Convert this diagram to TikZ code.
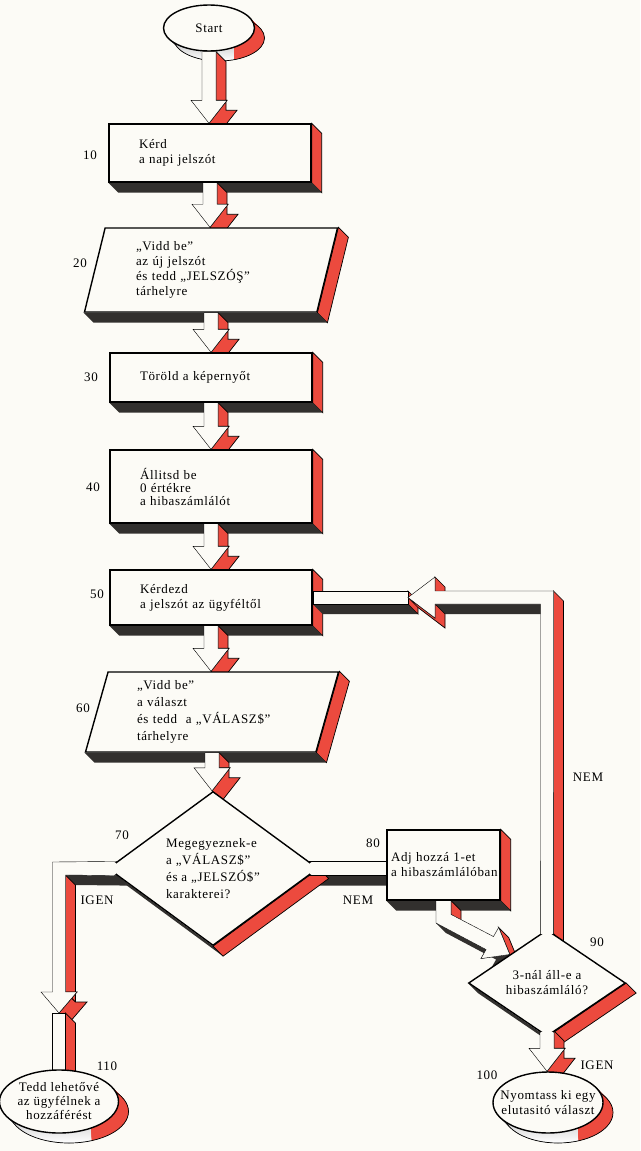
\documentclass[tikz,border=0pt]{standalone}
\usepackage{fontspec}
\setmainfont{Liberation Serif}[LetterSpace=5]
\usetikzlibrary{shapes.geometric,calc}
\hyphenpenalty=10000
\definecolor{paper}{RGB}{252,251,246}
\definecolor{side}{RGB}{236,74,62}
\definecolor{shade}{RGB}{50,48,46}
\pgfdeclarelayer{faces}
\pgfdeclarelayer{tubes}
\pgfdeclarelayer{patch}
\pgfsetlayers{faces,tubes,main,patch}
\newcommand\ext{10}
\newcommand\flowfont{\fontsize{13}{15}\selectfont}
\tikzset{
  proc/.style     = {rectangle, draw, fill=paper, align=left, font=\flowfont,
                     minimum width=202pt, text width=142pt, inner xsep=30pt},
  io/.style       = {trapezium, trapezium left angle=72, trapezium right angle=108,
                     trapezium stretches body, draw, fill=paper, align=left,
                     font=\flowfont, minimum width=253pt, text width=150pt, inner xsep=0pt},
  test/.style     = {diamond, draw, fill=paper, inner sep=0pt, font=\flowfont},
  term/.style     = {ellipse, draw, fill=paper, inner sep=0pt, align=center, font=\flowfont},
  num/.style      = {font=\flowfont, inner sep=0pt},
  tube/.style     = {fill=paper, draw},
  redface/.style  = {fill=side, draw, line width=0.7pt},
  darkface/.style = {fill=shade},
  cover/.style    = {fill=paper}
}
% side faces of the solid shapes
\newcommand\boxfaces[1]{%
  \path[redface] (#1.north east) -- ++(\ext,\ext) -- ([shift={(\ext,\ext)}]#1.south east) -- (#1.south east) -- cycle;
  \fill[darkface] (#1.south west) -- ++(\ext,\ext) -- ([shift={(\ext,\ext)}]#1.south east) -- (#1.south east) -- cycle;}
\newcommand\iofaces[1]{%
  \path[redface] (#1.top right corner) -- ++(\ext,\ext) -- ([shift={(\ext,\ext)}]#1.bottom right corner) -- (#1.bottom right corner) -- cycle;
  \fill[darkface] (#1.bottom left corner) -- ++(\ext,\ext) -- ([shift={(\ext,\ext)}]#1.bottom right corner) -- (#1.bottom right corner) -- cycle;}
\newcommand\testfaces[1]{%
  \fill[darkface] (#1.west) -- ++(\ext,\ext) -- ([shift={(\ext,\ext)}]#1.south) -- (#1.south) -- cycle;
  \path[redface] (#1.east) -- ++(\ext,\ext) -- ([shift={(\ext,\ext)}]#1.south) -- (#1.south) -- cycle;}
\newcommand\termfaces[3]{%
  \foreach \t in {1,...,\ext} {\fill[shade] ([shift={(\t,\t)}]#1.center) ellipse [x radius=#2, y radius=#3];}
  \begin{scope}
    \clip ([shift={(0.55*#2,-2*#3)}]#1.center) rectangle ++(3*#2,5*#3);
    \foreach \t in {1,...,\ext} {\fill[side] ([shift={(\t,\t)}]#1.center) ellipse [x radius=#2, y radius=#3];}
  \end{scope}
  \draw[line width=0.7pt] ([shift={(\ext,\ext)}]#1.center) ellipse [x radius=#2, y radius=#3];}
% hollow arrow straight down from one shape to the next
\newcommand\flowdown[3][0]{%
  \coordinate (tail) at ([shift={(0,-#1)}]#2.south);
  \coordinate (tip) at (tail |- #3.north);
  \path[redface] ([xshift=7pt]tail) -- ([shift={(7,-23)}]tip) -- ([shift={(18,-23)}]tip) -- (tip)
    -- ([shift={(\ext,\ext)}]tip) -- ([shift={(18+\ext,\ext-23)}]tip) -- ([shift={(7+\ext,\ext-23)}]tip)
    -- ([shift={(7+\ext,\ext)}]tail) -- cycle;
  \path[tube] ([xshift=-7pt]tail) -- ([shift={(-7,-23)}]tip) -- ([shift={(-18,-23)}]tip) -- (tip)
    -- ([shift={(18,-23)}]tip) -- ([shift={(7,-23)}]tip) -- ([xshift=7pt]tail) -- cycle;}

\begin{document}
\begin{tikzpicture}[x=1pt, y=-1pt, line width=1.4pt]
  \useasboundingbox (0,0) rectangle (640,1151);
  % shapes
  \node[term, minimum width=91pt, minimum height=46pt] (start) at (209,28) {Start};
  \node[proc, minimum height=58pt] (b10) at (210,153) {Kérd\\a napi jelszót};
  \node[io, minimum height=84pt] (p20) at (211,270) {„Vidd be”\\az új jelszót\\és tedd „JELSZÓŞ”\\tárhelyre};
  \node[proc, minimum height=49pt] (b30) at (211,377.5) {Töröld a képernyőt};
  \node[proc, minimum height=73pt, font=\fontsize{13}{13}\selectfont] (b40) at (211,486.5) {Állitsd be\\0 értékre\\a hibaszámlálót};
  \node[proc, minimum height=55pt] (b50) at (211,597.5) {Kérdezd\\a jelszót az ügyféltől};
  \node[io, minimum height=80pt, font=\fontsize{13}{17}\selectfont] (p60) at (212,712) {„Vidd be”\\a választ\\és tedd \ a „VÁLASZ\$”\\tárhelyre};
  \node[test, minimum width=210pt, minimum height=143pt, align=left, font=\fontsize{13}{17}\selectfont] (d70) at (213,868.5) {Megegyeznek-e\\a „VÁLASZ\$”\\és a „JELSZÓ\$”\\karakterei?};
  \node[proc, minimum width=113pt, minimum height=70pt, text width=105pt, inner xsep=4pt] (b80) at (443.5,865) {Adj hozzá 1-et\\a~hibaszámlálóban};
  \node[test, minimum width=157pt, minimum height=102pt, align=center] (d90) at (547,983) {3-nál áll-e a\\hibaszámláló?};
  \node[term, minimum width=110pt, minimum height=61pt, inner xsep=-12pt] (e100) at (548,1102.5) {Nyomtass ki egy\\elutasitó választ};
  \node[term, minimum width=119pt, minimum height=63pt, inner xsep=-6pt, font=\fontsize{13}{14}\selectfont] (e110) at (59,1101.5) {Tedd lehetővé\\az ügyfélnek a\\hozzáférést};
  % line numbers and answers
  \node[num] (l10) at (90,155) {10};
  \node[num] (l20) at (80,263) {20};
  \node[num] (l30) at (91,377) {30};
  \node[num] (l40) at (93,487) {40};
  \node[num] (l50) at (97,594) {50};
  \node[num] (l60) at (83,708) {60};
  \node[num] (l70) at (122,835) {70};
  \node[num] (l80) at (373,843) {80};
  \node[num] (l90) at (597,942) {90};
  \node[num] (l100) at (487,1075) {100};
  \node[num] (l110) at (107,1066) {110};
  \node[num] (nem1) at (588,777) {NEM};
  \node[num] (nem2) at (358,900) {NEM};
  \node[num] (igen1) at (97,900) {IGEN};
  \node[num] (igen2) at (597,1065) {IGEN};

  \begin{pgfonlayer}{faces}
    \fill[paper] (0,0) rectangle (640,1151);
    \coordinate (nu) at ($(d70.east)!0.091!(d70.north)$);
    \coordinate (nl) at ($(d70.east)!0.091!(d70.south)$);
    \fill[darkface] (nl) -- (nl -| b80.west) -- ++(\ext,\ext) -- ([shift={(\ext,\ext)}]nl) -- cycle;
    \termfaces{start}{45.5}{23}
    \foreach \nd in {b10,b30,b40,b50,b80} {\boxfaces{\nd}}
    \iofaces{p20}
    \iofaces{p60}
    \testfaces{d70}
    \testfaces{d90}
    \termfaces{e100}{55}{30.5}
    \termfaces{e110}{59.5}{31.5}
  \end{pgfonlayer}

  \begin{pgfonlayer}{tubes}
    \flowdown{start}{b10}
    \flowdown{b10}{p20}
    \flowdown{p20}{b30}
    \flowdown{b30}{b40}
    \flowdown{b40}{b50}
    \flowdown{b50}{p60}
    \flowdown{p60}{d70}
    \flowdown[6]{d90}{e100}
    % NEM: 70 -> 80
    \path[fill=paper] (nu) rectangle (nl -| b80.west);
    \draw (nu) -- (nu -| b80.west) (nl) -- (nl -| b80.west);
    % 80 -> 90
    \coordinate (hit) at ($(d90.north)!0.47!(d90.west)$);
    \fill[darkface] ([shift={(-7.5,22.3)}]b80.south) -- ([shift={(-23.7,-4.9)}]hit) -- ([shift={(-28.9,4.2)}]hit) -- (hit)
      -- ++(\ext,\ext) -- ([shift={(-28.9+\ext,4.2+\ext)}]hit) -- ([shift={(-23.7+\ext,-4.9+\ext)}]hit)
      -- ([shift={(-7.5+\ext,22.3+\ext)}]b80.south) -- cycle;
    \path[redface] ([xshift=7.5pt]b80.south) -- ([shift={(7.5,13.7)}]b80.south) -- ++(\ext,\ext) -- ([shift={(7.5+\ext,\ext)}]b80.south) -- cycle;
    \path[redface] (hit) -- ([shift={(-11.1,-27)}]hit) -- ++(\ext,\ext) -- ([shift={(\ext,\ext)}]hit) -- cycle;
    \path[tube] ([xshift=-7.5pt]b80.south) -- ([shift={(-7.5,22.3)}]b80.south) -- ([shift={(-23.7,-4.9)}]hit)
      -- ([shift={(-28.9,4.2)}]hit) -- (hit) -- ([shift={(-11.1,-27)}]hit) -- ([shift={(-16.3,-17.9)}]hit)
      -- ([shift={(7.5,13.7)}]b80.south) -- ([xshift=7.5pt]b80.south) -- cycle;
    % NEM: 90 -> 50
    \coordinate (turn) at (d90.north |- b50.east);
    \coordinate (ll) at ($(d90.north)!0.083!(d90.west)$);
    \coordinate (lr) at ($(d90.north)!0.083!(d90.east)$);
    \fill[darkface] ([shift={(0,6.5)}]b50.east) -- ([shift={(-139,6.5)}]turn) -- ++(\ext,\ext) -- ([shift={(\ext,6.5+\ext)}]b50.east) -- cycle;
    \path[redface] ([shift={(-139,-6.5)}]turn) -- ++(\ext,\ext) -- ([shift={(-139+\ext,6.5+\ext)}]turn) -- ([shift={(-139,6.5)}]turn) -- cycle;
    \path[tube] ([shift={(0,-6.5)}]b50.east) rectangle ([shift={(-139,6.5)}]turn);
    \fill[darkface] ([shift={(-112,6.5)}]turn) -- ([shift={(-6.5,6.5)}]turn) -- ++(\ext,\ext) -- ([shift={(-112+\ext,6.5+\ext)}]turn) -- cycle;
    \path[redface] ([shift={(6.5,-6.5)}]turn) -- ++(\ext,\ext) -- ([shift={(\ext,\ext)}]lr) -- (lr) -- cycle;
    \path[redface] ([shift={(-139,0)}]turn) -- ([shift={(-112,20.5)}]turn) -- ([shift={(-112,6.5)}]turn) -- ++(\ext,\ext)
      -- ([shift={(-112+\ext,20.5+\ext)}]turn) -- ([shift={(-139+\ext,\ext)}]turn) -- cycle;
    \path[redface] ([shift={(-112,-20.5)}]turn) -- ++(\ext,\ext) -- ([shift={(-112+\ext,-6.5+\ext)}]turn) -- ([shift={(-112,-6.5)}]turn) -- cycle;
    \path[tube] (ll) -- ([shift={(-6.5,6.5)}]turn) -- ([shift={(-112,6.5)}]turn) -- ([shift={(-112,20.5)}]turn)
      -- ([shift={(-139,0)}]turn) -- ([shift={(-112,-20.5)}]turn) -- ([shift={(-112,-6.5)}]turn)
      -- ([shift={(6.5,-6.5)}]turn) -- (lr);
    % IGEN: 70 -> 110
    \coordinate (bend) at (e110.north |- d70.west);
    \coordinate (iu) at ($(d70.west)!0.091!(d70.north)$);
    \coordinate (il) at ($(d70.west)!0.091!(d70.south)$);
    \fill[darkface] ([shift={(6.5,6.5)}]bend) -- (il) -- ++(\ext,\ext) -- ([shift={(6.5+\ext,6.5+\ext)}]bend) -- cycle;
    \path[redface] ([shift={(6.5,6.5)}]bend) -- ([shift={(6.5,123.5)}]bend) -- ++(\ext,\ext) -- ([shift={(6.5+\ext,6.5+\ext)}]bend) -- cycle;
    \path[redface] ([shift={(6.5,123.5)}]bend) -- ([shift={(18,123.5)}]bend) -- ([shift={(0,144.5)}]bend) -- ++(\ext,\ext)
      -- ([shift={(18+\ext,123.5+\ext)}]bend) -- ([shift={(6.5+\ext,123.5+\ext)}]bend) -- cycle;
    \path[tube] (iu) -- ([shift={(-6.5,-6.5)}]bend) -- ([shift={(-6.5,123.5)}]bend) -- ([shift={(-18,123.5)}]bend)
      -- ([shift={(0,144.5)}]bend) -- ([shift={(18,123.5)}]bend) -- ([shift={(6.5,123.5)}]bend)
      -- ([shift={(6.5,6.5)}]bend) -- (il);
    \path[redface] ([shift={(6.5,144.5)}]bend) -- ++(\ext,\ext) -- ([shift={(6.5+\ext,2)}]e110.north) -- ([shift={(6.5,2)}]e110.north) -- cycle;
    \path[tube] ([shift={(-6.5,144.5)}]bend) rectangle ([shift={(6.5,2)}]e110.north);
  \end{pgfonlayer}

  % hide the corners where the channels run into the diamonds
  \begin{pgfonlayer}{patch}
    \fill[cover] ([shift={(-1.5,-5.8)}]d70.west) rectangle ([shift={(9,5.8)}]d70.west);
    \fill[cover] ([shift={(-9,-5.8)}]d70.east) rectangle ([shift={(1.5,5.8)}]d70.east);
    \fill[cover] ([shift={(-5.9,-1.5)}]d90.north) rectangle ([shift={(5.9,5)}]d90.north);
    \fill[cover] ([shift={(-5.9,-5)}]d90.south) rectangle ([shift={(5.9,1.5)}]d90.south);
  \end{pgfonlayer}
\end{tikzpicture}
\end{document}
